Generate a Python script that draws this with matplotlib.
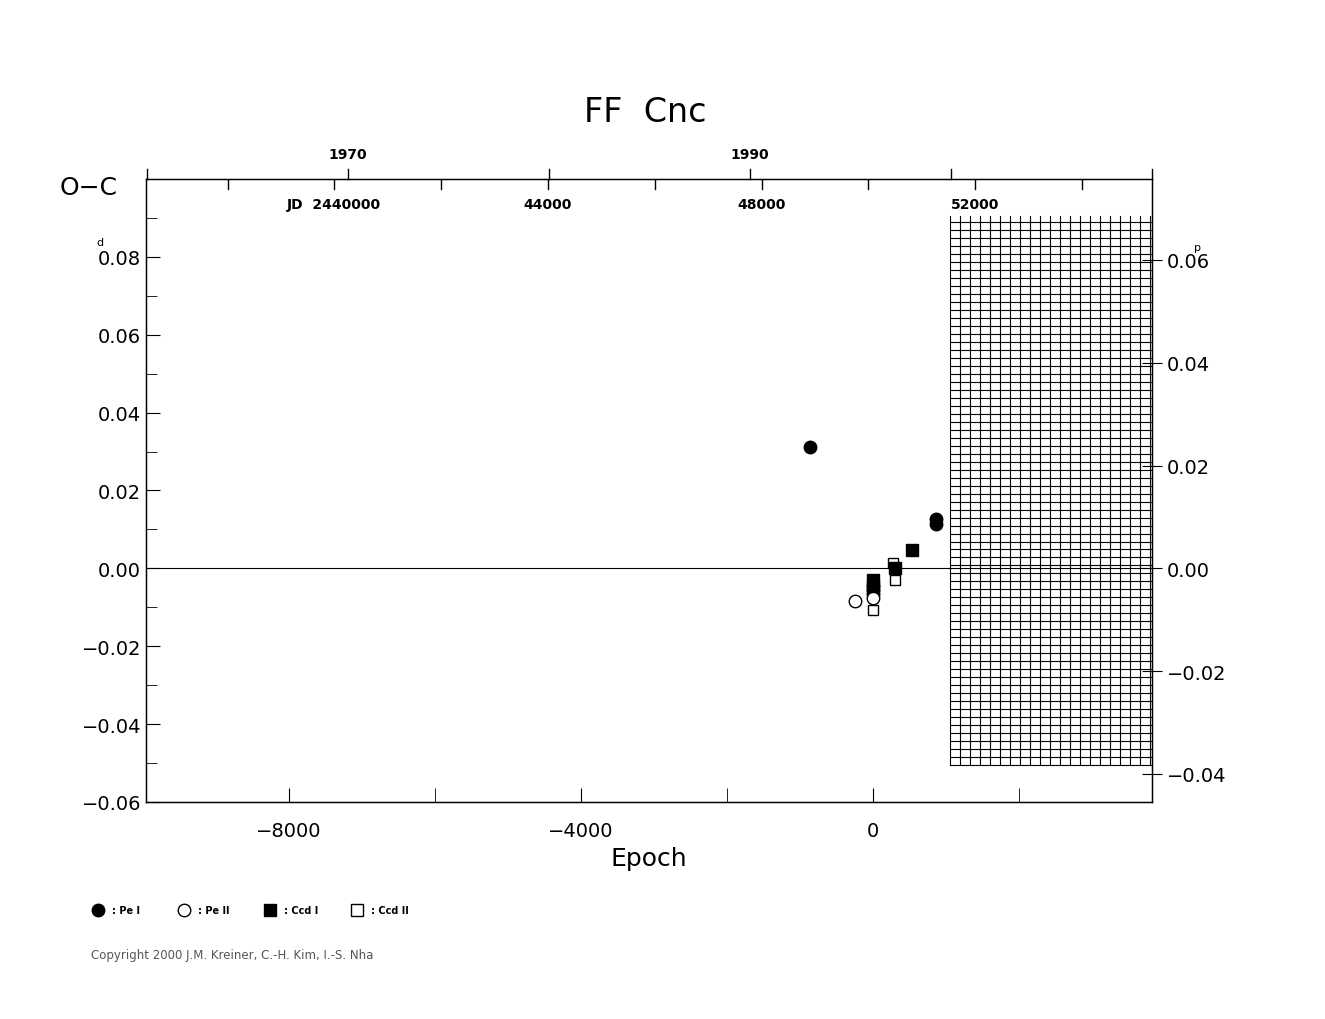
import matplotlib
matplotlib.use("Agg")
import matplotlib.pyplot as plt
import numpy as np

pe1_e = [-863, 863, 863, 0, 0, 0]
pe1_oc = [0.0313, 0.0128, 0.0113, -0.0045, -0.0055, -0.0065]
pe2_e = [-247, 0]
pe2_oc = [-0.0085, -0.0077]
ccd1_e = [0, 0, 300, 534]
ccd1_oc = [-0.0030, -0.0045, 0.0000, 0.0046]
ccd2_e = [0, 274, 300]
ccd2_oc = [-0.0108, 0.0013, -0.0030]

fig = plt.figure(figsize=(13.25, 10.2), dpi=100)
ax = fig.add_axes([146/1325, 1-803/1020, 1006/1325, 623/1020])
ax.set_xlim(-9959, 3822)
ax.set_ylim(-0.06, 0.1)

# hatched grid region
gx0, gx1 = 1055, 3822
gy0, gy1 = -0.0505, 0.0905
for x in np.arange(gx0, gx1, 137):
    ax.plot([x, x], [gy0, gy1], color='k', lw=0.8)
for y in np.arange(gy0, gy1 + 1e-6, 0.00205):
    ax.plot([gx0, gx1], [y, y], color='k', lw=0.8)

ax.axhline(0, color='k', lw=0.8)
ms = 9
ax.plot(pe1_e, pe1_oc, 'o', color='k', ms=ms, ls='none')
ax.plot(pe2_e, pe2_oc, 'o', mfc='white', mec='k', ms=ms, ls='none')
ax.plot(ccd1_e, ccd1_oc, 's', color='k', ms=ms-1, ls='none')
ax.plot(ccd2_e, ccd2_oc, 's', mfc='none', mec='k', ms=ms-2, ls='none')

ax.set_xticks([-8000, -4000, 0])
ax.set_xticklabels(['\u22128000', '\u22124000', '0'])
ax.set_xticks([-6000, -2000, 2000], minor=True)
ax.tick_params(axis='x', which='both', direction='in', length=10, labelsize=14, pad=14)
ax.set_yticks(np.arange(-0.06, 0.081, 0.02))
ax.set_yticklabels(['\u22120.06', '\u22120.04', '\u22120.02', '0.00', '0.02', '0.04', '0.06', '0.08'])
ax.set_yticks(np.arange(-0.05, 0.1, 0.01), minor=True)
ax.tick_params(axis='y', which='major', direction='in', length=10, labelsize=14)
ax.tick_params(axis='y', which='minor', direction='in', length=8)
for s in ax.spines.values():
    s.set_linewidth(1)
ax.set_xlabel('Epoch', fontsize=18)

# right axis (phase)
f = 1.32
ax2 = ax.twinx()
ax2.set_ylim(-0.06 / f, 0.1 / f)
ax2.set_yticks([-0.04, -0.02, 0, 0.02, 0.04, 0.06])
ax2.set_yticklabels(['\u22120.04', '\u22120.02', '0.00', '0.02', '0.04', '0.06'])
ax2.tick_params(axis='y', direction='inout', length=14, labelsize=14)
ax2.set_yticks(np.arange(-0.04, 0.07, 0.01), minor=True)
ax2.tick_params(axis='y', which='minor', direction='in', length=0)

# top JD labels
def jd2e(jd):
    return (jd - 44000) / 1.3667 - 4452
def yr2e(yr):
    px = 348 + (yr - 1970) * 20.1
    return (px - 873) / 73 * 1000
for jd in [40000, 44000, 48000, 52000]:
    e = jd2e(jd)
    lbl = 'JD  2440000' if jd == 40000 else str(jd)
    ax.text(e, 0.0935, lbl, ha='center', va='center', fontsize=10, fontweight='bold')
for jd in range(38000, 57000, 2000):
    e = jd2e(jd)
    if -9959 < e < 3822:
        ax.plot([e, e], [0.1, 0.0975], color='k', lw=1)
for yr in range(1960, 2011, 10):
    e = yr2e(yr)
    if -9959 < e < 3822:
        ax.plot([e, e], [0.1, 0.1025], color='k', lw=1, clip_on=False)
for yr in [1970, 1990]:
    ax.text(yr2e(yr), 0.1045, str(yr), ha='center', va='bottom', fontsize=10, fontweight='bold')

fig.text(645/1325, 1-112/1020, 'FF  Cnc', ha='center', va='center', fontsize=24)
fig.text(60/1325, 1-188/1020, 'O\u2212C', ha='left', va='center', fontsize=18)
fig.text(96/1325, 1-246/1020, 'd', fontsize=8)
fig.text(1194/1325, 1-251/1020, 'p', fontsize=8)

# legend
ly = 1 - 911/1020
items = [(98, 'o', 'k', ': Pe I'), (184, 'o', 'white', ': Pe II'), (270, 's', 'k', ': Ccd I'), (357, 's', 'white', ': Ccd II')]
for px, m, fc, t in items:
    fig.lines.append(plt.Line2D([px/1325], [ly], marker=m, mfc=fc, mec='k', ms=9 if m == 'o' else 8, transform=fig.transFigure))
    fig.text((px+14)/1325, ly, t, va='center', fontsize=7, fontweight='bold')
fig.text(91/1325, 1-956/1020, 'Copyright 2000 J.M. Kreiner, C.-H. Kim, I.-S. Nha', fontsize=8.5, color='#555555', va='center')

fig.savefig('out.png', dpi=100)
